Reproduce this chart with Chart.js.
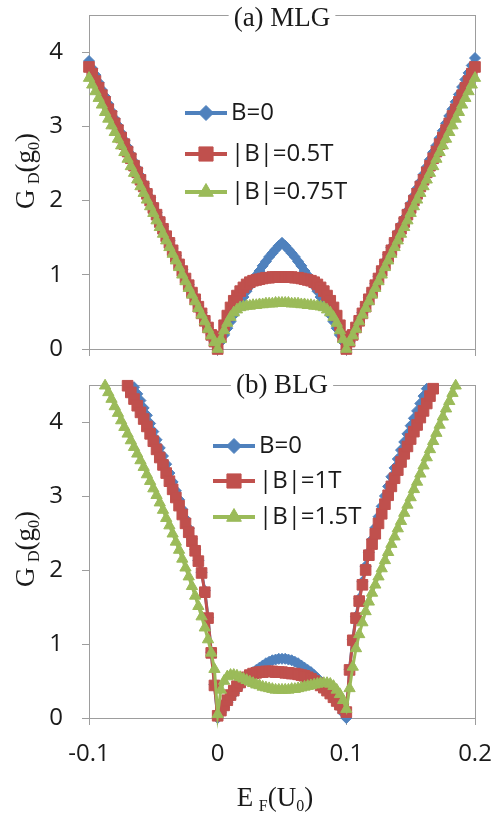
<!DOCTYPE html>
<html><head><meta charset="utf-8">
<script src="https://cdn.jsdelivr.net/npm/chart.js"></script>
<style>
html,body{margin:0;padding:0;background:#fff;}
#wrap{position:relative;width:494px;height:815px;background:#fff;}
canvas{position:absolute;left:0;}
#c1{top:0;}
#c2{top:370px;}
</style></head><body>
<div id="wrap"><canvas id="c1" width="494" height="370"></canvas><canvas id="c2" width="494" height="445"></canvas></div>
<script>
// Fermi energy E_F (units of U0)
const energy = [
-0.1,-0.0975,-0.095,-0.0925,-0.09,-0.0875,-0.085,-0.0825,-0.08,-0.0775,
-0.075,-0.0725,-0.07,-0.0675,-0.065,-0.0625,-0.06,-0.0575,-0.055,-0.0525,
-0.05,-0.0475,-0.045,-0.0425,-0.04,-0.0375,-0.035,-0.0325,-0.03,-0.0275,
-0.025,-0.0225,-0.02,-0.0175,-0.015,-0.0125,-0.01,-0.0075,-0.005,-0.0025,
0,0.0025,0.005,0.0075,0.01,0.0125,0.015,0.0175,0.02,0.0225,
0.025,0.0275,0.03,0.0325,0.035,0.0375,0.04,0.0425,0.045,0.0475,
0.05,0.0525,0.055,0.0575,0.06,0.0625,0.065,0.0675,0.07,0.0725,
0.075,0.0775,0.08,0.0825,0.085,0.0875,0.09,0.0925,0.095,0.0975,
0.1,0.1025,0.105,0.1075,0.11,0.1125,0.115,0.1175,0.12,0.1225,
0.125,0.1275,0.13,0.1325,0.135,0.1375,0.14,0.1425,0.145,0.1475,
0.15,0.1525,0.155,0.1575,0.16,0.1625,0.165,0.1675,0.17,0.1725,
0.175,0.1775,0.18,0.1825,0.185,0.1875,0.19,0.1925,0.195,0.1975,
0.2];

// (a) MLG  G_D (g0)
const mlgB0 = [
3.88,3.78,3.69,3.59,3.49,3.40,3.30,3.20,3.10,3.01,
2.91,2.81,2.72,2.62,2.52,2.43,2.33,2.23,2.13,2.04,
1.94,1.84,1.75,1.65,1.55,1.46,1.36,1.26,1.16,1.07,
0.97,0.87,0.78,0.68,0.58,0.49,0.39,0.29,0.19,0.10,
0.00,0.10,0.19,0.28,0.37,0.46,0.54,0.62,0.70,0.78,
0.85,0.92,0.99,1.05,1.12,1.18,1.24,1.29,1.34,1.39,
1.43,1.39,1.34,1.29,1.24,1.18,1.12,1.05,0.99,0.92,
0.85,0.78,0.70,0.62,0.54,0.46,0.37,0.28,0.19,0.10,
0.00,0.10,0.20,0.29,0.39,0.49,0.59,0.69,0.78,0.88,
0.98,1.08,1.18,1.27,1.37,1.47,1.57,1.67,1.76,1.86,
1.96,2.06,2.16,2.25,2.35,2.45,2.55,2.65,2.74,2.84,
2.94,3.04,3.14,3.23,3.33,3.43,3.53,3.63,3.72,3.82,
3.92];
const mlgB05 = [
3.80,3.71,3.61,3.52,3.42,3.33,3.23,3.14,3.04,2.95,
2.85,2.76,2.66,2.57,2.47,2.38,2.28,2.19,2.09,2.00,
1.90,1.81,1.71,1.62,1.52,1.43,1.33,1.24,1.14,1.05,
0.95,0.86,0.76,0.67,0.57,0.48,0.38,0.29,0.19,0.10,
0.00,0.17,0.32,0.45,0.56,0.65,0.72,0.78,0.83,0.87,
0.90,0.92,0.93,0.94,0.95,0.96,0.96,0.97,0.97,0.97,
0.97,0.97,0.97,0.97,0.96,0.96,0.95,0.94,0.93,0.92,
0.90,0.87,0.83,0.78,0.72,0.65,0.56,0.45,0.32,0.17,
0.00,0.10,0.19,0.29,0.38,0.48,0.57,0.67,0.76,0.86,
0.95,1.05,1.14,1.24,1.33,1.43,1.52,1.62,1.71,1.81,
1.90,2.00,2.09,2.19,2.28,2.38,2.47,2.57,2.66,2.76,
2.85,2.95,3.04,3.14,3.23,3.33,3.42,3.52,3.61,3.71,
3.80];
const mlgB075 = [
3.65,3.56,3.47,3.38,3.29,3.19,3.10,3.01,2.92,2.83,
2.74,2.65,2.56,2.46,2.37,2.28,2.19,2.10,2.01,1.92,
1.83,1.73,1.64,1.55,1.46,1.37,1.28,1.19,1.10,1.00,
0.91,0.82,0.73,0.64,0.55,0.46,0.37,0.27,0.18,0.09,
0.00,0.13,0.25,0.35,0.43,0.49,0.53,0.56,0.57,0.58,
0.58,0.59,0.59,0.60,0.60,0.61,0.61,0.61,0.62,0.62,
0.62,0.62,0.62,0.61,0.61,0.61,0.60,0.60,0.59,0.59,
0.58,0.58,0.57,0.56,0.53,0.49,0.43,0.35,0.25,0.13,
0.00,0.09,0.18,0.27,0.37,0.46,0.55,0.64,0.73,0.82,
0.91,1.00,1.10,1.19,1.28,1.37,1.46,1.55,1.64,1.73,
1.83,1.92,2.01,2.10,2.19,2.28,2.37,2.46,2.56,2.65,
2.74,2.83,2.92,3.01,3.10,3.19,3.29,3.38,3.47,3.56,
3.65];

// (b) BLG  G_D (g0)
const blgB0 = [
null,null,null,null,null,null,null,null,null,null,
null,null,null,null,4.47,4.38,4.29,4.19,4.09,3.98,
3.87,3.76,3.65,3.54,3.43,3.31,3.19,3.07,2.95,2.82,
2.69,2.56,2.42,2.28,2.13,1.97,1.72,1.36,0.89,0.45,
0.00,0.07,0.14,0.21,0.27,0.33,0.39,0.44,0.49,0.54,
0.58,0.62,0.65,0.68,0.71,0.74,0.76,0.78,0.79,0.80,
0.80,0.80,0.79,0.78,0.76,0.74,0.71,0.68,0.65,0.62,
0.58,0.54,0.49,0.44,0.39,0.33,0.27,0.21,0.14,0.07,
0.00,0.66,1.06,1.37,1.61,1.84,2.05,2.24,2.41,2.57,
2.72,2.86,3.00,3.13,3.26,3.38,3.50,3.62,3.73,3.84,
3.95,4.05,4.15,4.25,4.35,4.45,null,null,null,null,
null,null,null,null,null,null,null,null,null,null,
null];
const blgB1 = [
null,null,null,null,null,null,null,null,null,null,
null,null,4.49,4.40,4.31,4.22,4.13,4.04,3.94,3.84,
3.74,3.63,3.52,3.42,3.31,3.20,3.09,2.98,2.87,2.75,
2.63,2.51,2.39,2.26,2.12,1.96,1.70,1.35,0.88,0.44,
0.03,0.10,0.17,0.24,0.31,0.37,0.43,0.48,0.52,0.55,
0.58,0.60,0.61,0.62,0.62,0.63,0.63,0.63,0.62,0.62,
0.62,0.61,0.61,0.60,0.60,0.59,0.58,0.57,0.55,0.53,
0.50,0.47,0.44,0.41,0.37,0.33,0.28,0.23,0.18,0.13,
0.08,0.65,1.05,1.35,1.58,1.80,2.00,2.20,2.35,2.49,
2.63,2.76,2.89,3.01,3.13,3.24,3.35,3.46,3.57,3.67,
3.77,3.87,3.96,4.06,4.15,4.25,4.35,4.45,null,null,
null,null,null,null,null,null,null,null,null,null,
null];
const blgB15 = [
null,null,null,null,null,4.49,4.40,4.31,4.21,4.12,
4.02,3.93,3.84,3.75,3.66,3.57,3.48,3.39,3.29,3.20,
3.10,3.01,2.91,2.81,2.70,2.60,2.49,2.38,2.27,2.15,
2.03,1.91,1.78,1.65,1.51,1.37,1.22,1.06,0.88,0.66,
0.05,0.38,0.50,0.56,0.58,0.58,0.57,0.55,0.53,0.51,
0.49,0.47,0.45,0.44,0.42,0.41,0.40,0.39,0.38,0.38,
0.38,0.38,0.38,0.39,0.39,0.40,0.41,0.42,0.43,0.44,
0.45,0.46,0.47,0.47,0.47,0.46,0.43,0.38,0.32,0.24,
0.12,0.40,0.69,0.94,1.13,1.29,1.44,1.57,1.69,1.80,
1.91,2.02,2.13,2.24,2.35,2.45,2.56,2.66,2.77,2.88,
2.98,3.09,3.19,3.30,3.41,3.52,3.63,3.74,3.85,3.96,
4.07,4.18,4.28,4.39,4.49,null,null,null,null,null,
null];

const mlgNames = ['B=0', '|B|=0.5T', '|B|=0.75T'];
const blgNames = ['B=0', '|B|=1T', '|B|=1.5T'];
const xTickValues = [-0.1, 0, 0.1, 0.2];
const xTickLabels = ['-0.1', '0', '0.1', '0.2'];
const yTickValues = [0, 1, 2, 3, 4];
const yTickLabels = ['0', '1', '2', '3', '4'];
const panelTitles = ['(a) MLG', '(b) BLG'];
const yTitleParts = [['G', 27, 0], [' ', 22, 0], ['D', 16, 5], ['(g', 27, 0], ['0', 16, 5], [')', 27, 0]];
const xTitleParts = [['E', 27, 0], [' ', 22, 0], ['F', 16, 5], ['(U', 27, 0], ['0', 16, 5], [')', 27, 0]];

const COLORS = ['#4F81BD', '#C0504D', '#9BBB59'];
const STYLES = ['rectRot', 'rect', 'triangle'];
const RADII = [5.5, 7.5, 6.5];
const LEG_RADII = [7.5, 10, 8.5];
const AXIS = '#9d9d9d';
const TEXT = '#1a1a1a';
const SANS = "'Open Sans', sans-serif";
const SERIF = "'Liberation Serif', 'Times New Roman', serif";

function toPoints(arr) {
  const out = [];
  energy.forEach((e, i) => { if (arr[i] !== null) out.push({ x: e, y: arr[i] }); });
  return out;
}
function makeDatasets(series, names) {
  return series.map((arr, k) => ({
    label: names[k],
    data: toPoints(arr),
    borderColor: COLORS[k], backgroundColor: COLORS[k],
    borderWidth: 3,
    pointStyle: STYLES[k], pointRadius: RADII[k],
    pointBackgroundColor: COLORS[k], pointBorderColor: COLORS[k], pointBorderWidth: 1,
    tension: 0, clip: false, order: 2 - k
  }));
}
function drawRich(ctx, parts, cx, cy) {
  let total = 0;
  const widths = parts.map(p => { ctx.font = p[1] + 'px ' + SERIF; const w = ctx.measureText(p[0]).width; total += w; return w; });
  let x = cx - total / 2;
  ctx.textAlign = 'left'; ctx.textBaseline = 'alphabetic';
  parts.forEach((p, i) => { ctx.font = p[1] + 'px ' + SERIF; ctx.fillText(p[0], x, cy + 9 + p[2]); x += widths[i]; });
}
function makePanelPlugin(cfg) {
  return {
    id: 'panel' + cfg.idx,
    beforeDatasetsDraw(chart) {
      const { ctx, chartArea: a } = chart;
      ctx.save();
      ctx.strokeStyle = AXIS; ctx.lineWidth = 1;
      ctx.strokeRect(Math.round(a.left) + 0.5, Math.round(a.top) + 0.5, Math.round(a.right - a.left), Math.round(a.bottom - a.top));
      ctx.restore();
    },
    afterDatasetsDraw(chart) {
      const { ctx, chartArea: a } = chart;
      ctx.save();
      // panel title over the frame
      ctx.font = '27px ' + SERIF;
      const t = panelTitles[cfg.idx];
      const tw = ctx.measureText(t).width;
      const cx = (a.left + a.right) / 2;
      ctx.fillStyle = '#fff';
      ctx.fillRect(cx - tw / 2 - 5, a.top - 3, tw + 10, 6);
      ctx.fillStyle = TEXT; ctx.textAlign = 'center'; ctx.textBaseline = 'middle';
      ctx.fillText(t, cx, a.top + cfg.titleDy);
      // legend
      cfg.names.forEach((name, k) => {
        const y = cfg.legY[k];
        const x1 = cfg.legX, x2 = x1 + 42, xm = (x1 + x2) / 2;
        ctx.strokeStyle = COLORS[k]; ctx.lineWidth = 4;
        ctx.beginPath(); ctx.moveTo(x1, y); ctx.lineTo(x2, y); ctx.stroke();
        ctx.fillStyle = COLORS[k]; ctx.lineWidth = 1;
        Chart.helpers.drawPoint(ctx, { pointStyle: STYLES[k], radius: LEG_RADII[k], rotation: 0, borderWidth: 1 }, xm, y);
        ctx.fillStyle = TEXT; ctx.font = '24px ' + SANS; ctx.textAlign = 'left'; ctx.textBaseline = 'middle';
        ctx.fillText(name, x2 + 4, y);
      });
      // y axis title
      ctx.fillStyle = TEXT;
      ctx.save();
      ctx.translate(cfg.yTitleX, cfg.yTitleY); ctx.rotate(-Math.PI / 2);
      drawRich(ctx, yTitleParts, 0, 0);
      ctx.restore();
      if (cfg.showX) drawRich(ctx, xTitleParts, cfg.xTitleX, cfg.xTitleY);
      ctx.restore();
    }
  };
}
function makeChart(id, series, cfg) {
  return new Chart(document.getElementById(id), {
    type: 'line',
    data: { datasets: makeDatasets(series, cfg.names) },
    options: {
      responsive: false, animation: false, events: [],
      layout: { padding: { left: 0, right: 19, top: 15, bottom: 0 } },
      plugins: { legend: { display: false }, tooltip: { enabled: false }, title: { display: false } },
      scales: {
        x: {
          type: 'linear', min: -0.1, max: 0.2,
          afterBuildTicks: s => { s.ticks = xTickValues.map(v => ({ value: v })); },
          afterFit: s => { s.height = cfg.xHeight; s.paddingLeft = 0; s.paddingRight = 0; },
          ticks: { display: cfg.showX, callback: (v, i) => xTickLabels[i], font: { family: SANS, size: 24 }, color: TEXT, padding: 15, maxRotation: 0, autoSkip: false },
          grid: { drawOnChartArea: false, drawTicks: true, tickLength: 7, color: AXIS },
          border: { display: true, color: AXIS }
        },
        y: {
          min: 0, max: 4.5,
          afterBuildTicks: s => { s.ticks = yTickValues.map(v => ({ value: v })); },
          afterFit: s => { s.width = 89; s.paddingTop = 0; s.paddingBottom = 0; },
          ticks: { callback: (v, i) => yTickLabels[i], font: { family: SANS, size: 24 }, color: TEXT, padding: 19 },
          grid: { drawOnChartArea: false, drawTicks: true, tickLength: 7, color: AXIS },
          border: { display: true, color: AXIS }
        }
      }
    },
    plugins: [makePanelPlugin(cfg)]
  });
}

makeChart('c1', [mlgB0, mlgB05, mlgB075], {
  idx: 0, names: mlgNames, showX: false, xHeight: 21, titleDy: 4,
  legX: 185, legY: [113, 154, 192], yTitleX: 25, yTitleY: 171
});
makeChart('c2', [blgB0, blgB1, blgB15], {
  idx: 1, names: blgNames, showX: true, xHeight: 97, titleDy: 1,
  legX: 213, legY: [76, 111, 147], yTitleX: 25, yTitleY: 179,
  xTitleX: 275, xTitleY: 427
});
</script></body></html>
